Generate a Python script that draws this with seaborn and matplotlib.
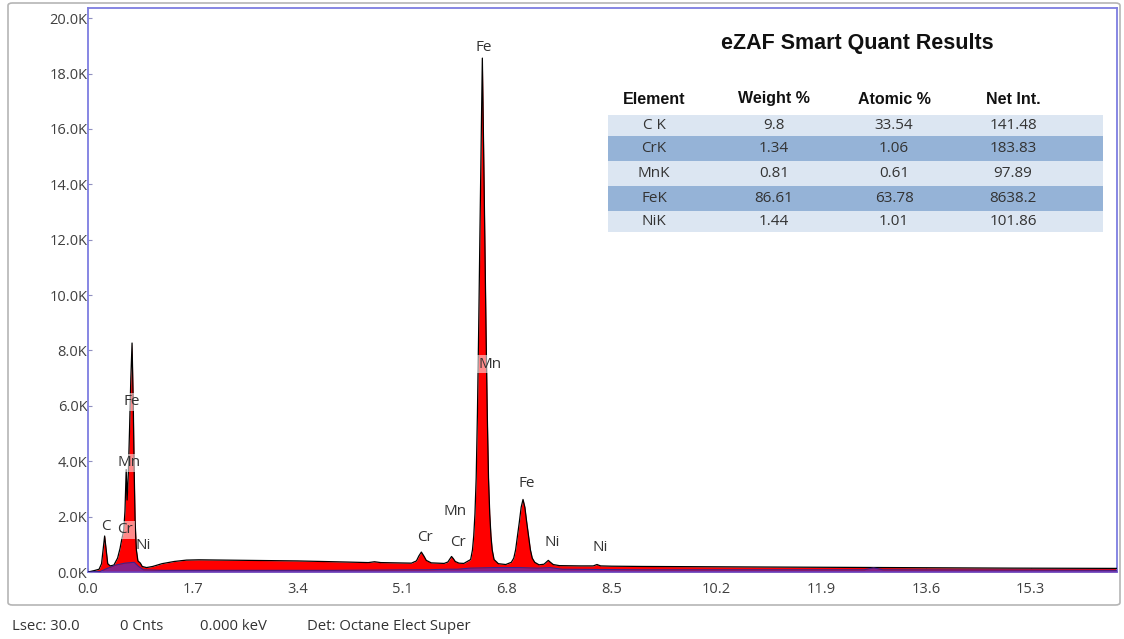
import numpy as np
import pandas as pd
import matplotlib
matplotlib.use("Agg")
import matplotlib.pyplot as plt
import seaborn as sns
from matplotlib.patches import Rectangle, FancyBboxPatch

# ---------------- data ----------------
energy_kev = [0.00, 0.10, 0.18, 0.22, 0.25, 0.27, 0.29, 0.32, 0.36, 0.42, 0.48, 0.52,
              0.55, 0.58, 0.60, 0.62, 0.635, 0.655, 0.675, 0.695, 0.715, 0.735, 0.75,
              0.765, 0.785, 0.81, 0.85, 0.88, 0.95, 1.05, 1.20, 1.40, 1.60, 1.80, 2.20,
              2.60, 3.00, 3.40, 3.80, 4.20, 4.55, 4.65, 4.75, 5.00, 5.25, 5.33, 5.37,
              5.41, 5.45, 5.49, 5.57, 5.78, 5.84, 5.87, 5.90, 5.93, 5.96, 6.02, 6.10,
              6.21, 6.24, 6.26, 6.28, 6.30, 6.32, 6.34, 6.36, 6.38, 6.40, 6.42, 6.44,
              6.46, 6.48, 6.50, 6.52, 6.54, 6.56, 6.59, 6.66, 6.78, 6.87, 6.91, 6.94,
              6.97, 7.00, 7.03, 7.06, 7.09, 7.12, 7.15, 7.18, 7.21, 7.25, 7.32, 7.40,
              7.44, 7.47, 7.50, 7.55, 7.65, 8.00, 8.20, 8.26, 8.32, 8.50, 9.00, 10.0,
              11.0, 12.0, 13.0, 14.0, 15.0, 16.7]
counts_k = [0.00, 0.05, 0.10, 0.30, 0.90, 1.30, 0.90, 0.30, 0.22, 0.25, 0.50, 0.85,
            1.20, 1.50, 2.20, 3.70, 2.60, 3.60, 5.20, 7.00, 8.27, 6.00, 3.60,
            1.80, 0.80, 0.40, 0.32, 0.20, 0.16, 0.20, 0.30, 0.38, 0.43, 0.44, 0.43,
            0.42, 0.41, 0.40, 0.38, 0.36, 0.34, 0.37, 0.34, 0.33, 0.32, 0.40, 0.58,
            0.72, 0.58, 0.42, 0.33, 0.31, 0.36, 0.46, 0.56, 0.48, 0.38, 0.32, 0.31,
            0.45, 0.80, 1.30, 2.10, 3.40, 5.70, 8.70, 12.1, 15.4, 18.56, 15.4, 12.1,
            8.70, 5.70, 3.40, 2.10, 1.30, 0.80, 0.45, 0.30, 0.27, 0.35, 0.50, 0.80,
            1.30, 1.80, 2.34, 2.62, 2.34, 1.80, 1.30, 0.80, 0.50, 0.35, 0.26, 0.28,
            0.36, 0.42, 0.36, 0.27, 0.23, 0.22, 0.22, 0.27, 0.22, 0.21, 0.20, 0.19,
            0.18, 0.17, 0.16, 0.15, 0.14, 0.13]

bg_energy_kev = [0.00, 0.20, 0.30, 0.45, 0.60, 0.75, 0.82, 0.90, 1.20, 2.00, 4.00, 5.30,
                 5.50, 5.85, 6.00, 6.20, 6.60, 7.00, 7.30, 7.50, 7.70, 9.00, 12.60,
                 12.75, 12.90, 16.70]
bg_counts_k = [0.00, 0.02, 0.12, 0.25, 0.32, 0.35, 0.20, 0.08, 0.06, 0.06, 0.06, 0.08,
               0.08, 0.10, 0.10, 0.14, 0.16, 0.16, 0.14, 0.16, 0.10, 0.08, 0.08,
               0.15, 0.08, 0.06]

peak_labels = ["Fe", "Mn", "Fe", "Mn", "Cr", "Cr", "Ni", "Ni", "Fe", "Mn", "C", "Cr", "Ni"]
label_kev = [6.43, 6.52, 7.12, 5.95, 5.47, 6.00, 7.53, 8.32, 0.71, 0.66, 0.29, 0.60, 0.89]
label_k = [18.96, 7.51, 3.21, 2.17, 1.26, 1.05, 1.05, 0.87, 6.14, 3.94, 1.63, 1.52, 0.94]
label_boxed = [False, True, False, False, False, False, False, False, True, True, False, True, False]

x_ticks = [0.0, 1.7, 3.4, 5.1, 6.8, 8.5, 10.2, 11.9, 13.6, 15.3]
y_ticks = [0, 2, 4, 6, 8, 10, 12, 14, 16, 18, 20]

table_title = "eZAF Smart Quant Results"
table_columns = ["Element", "Weight %", "Atomic %", "Net Int."]
table_elements = ["C K", "CrK", "MnK", "FeK", "NiK"]
table_weight = ["9.8", "1.34", "0.81", "86.61", "1.44"]
table_atomic = ["33.54", "1.06", "0.61", "63.78", "1.01"]
table_netint = ["141.48", "183.83", "97.89", "8638.2", "101.86"]

footer_items = ["Lsec: 30.0", "0 Cnts", "0.000 keV", "Det: Octane Elect Super"]

# ---------------- figure ----------------
sns.set_theme(style="white")
plt.rcParams["font.family"] = ["Open Sans", "DejaVu Sans"]

W, H = 1124, 639
fig = plt.figure(figsize=(W / 100, H / 100), dpi=100)
fig.patch.set_facecolor("white")


def fx(px):
    return px / W


def fy(py):
    return 1 - py / H


ax = fig.add_axes([fx(88), fy(572), fx(1117) - fx(88), fy(8) - fy(572)])

spec = pd.DataFrame({"Energy": energy_kev, "Counts": counts_k})
bg = pd.DataFrame({"Energy": bg_energy_kev, "Counts": bg_counts_k})

ax.fill_between(spec["Energy"], 0, spec["Counts"], color="#ff0000", lw=0, zorder=2)
sns.lineplot(data=spec, x="Energy", y="Counts", ax=ax, color="black", lw=0.9,
             estimator=None, sort=False, zorder=3)
ax.fill_between(bg["Energy"], 0, bg["Counts"], color="#6a2aa8", alpha=0.8, lw=0, zorder=4)
sns.lineplot(data=bg, x="Energy", y="Counts", ax=ax, color="#3a2290", lw=0.8,
             estimator=None, sort=False, zorder=4)

for lab, xe, yk, boxed in zip(peak_labels, label_kev, label_k, label_boxed):
    kw = {}
    if boxed:
        kw["bbox"] = dict(boxstyle="square,pad=0.12", fc="white", ec="none", alpha=0.55)
    ax.text(xe, yk, lab, ha="center", va="center", fontsize=11, color="#333333",
            zorder=6, **kw)

ax.set_xlim(0, 16.7)
ax.set_ylim(0, 20.37)
ax.set_xticks(x_ticks)
ax.set_xticklabels([f"{v:.1f}" for v in x_ticks])
ax.set_yticks(y_ticks)
ax.set_yticklabels([f"{v:.1f}K" for v in y_ticks])
ax.set_xlabel("")
ax.set_ylabel("")
ax.tick_params(axis="y", direction="in", length=3, width=0.8, color="#9090c0",
               pad=0.5, labelsize=10.5, labelcolor="#404040", left=True)
ax.tick_params(axis="x", direction="in", length=3, width=0.8, color="#9090c0",
               pad=7, labelsize=10.5, labelcolor="#404040", bottom=True)
for s in ax.spines.values():
    s.set_color("#7d7de0")
    s.set_linewidth(1.3)
    s.set_visible(True)
ax.set_facecolor("white")

# outer rounded frame
frame = FancyBboxPatch((fx(8), fy(605)), fx(1120) - fx(8), fy(3) - fy(605),
                       boxstyle="round,pad=0,rounding_size=0.004",
                       transform=fig.transFigure, fill=False, ec="#b5b5b5", lw=1.2,
                       zorder=0)
fig.add_artist(frame)

# ---------------- result table ----------------
fig.text(fx(857), fy(44), table_title, ha="center", va="center", fontsize=15.5,
         fontweight="bold", family="Liberation Sans", color="#111111")

col_x = [654, 774, 894, 1013]
for cx, name in zip(col_x, table_columns):
    fig.text(fx(cx), fy(99), name, ha="center", va="center", fontsize=11.5,
             fontweight="bold", family="Liberation Sans", color="#111111")

row_edges = [115, 136, 161, 186, 211, 232]
row_colors = ["#dce6f2", "#95b3d7", "#dce6f2", "#95b3d7", "#dce6f2"]
for i, c in enumerate(row_colors):
    top, bot = row_edges[i], row_edges[i + 1]
    fig.add_artist(Rectangle((fx(608), fy(bot)), fx(1103) - fx(608), fy(top) - fy(bot),
                             transform=fig.transFigure, fc=c, ec="none", zorder=1))

for i in range(len(table_elements)):
    cy = (row_edges[i] + row_edges[i + 1]) / 2
    for cx, val in zip(col_x, [table_elements[i], table_weight[i], table_atomic[i], table_netint[i]]):
        fig.text(fx(cx), fy(cy), val, ha="center", va="center", fontsize=11,
                 color="#333333", zorder=2)

# ---------------- footer ----------------
footer_x = [12, 120, 200, 307]
for x0, t in zip(footer_x, footer_items):
    fig.text(fx(x0), fy(627), t, ha="left", va="center", fontsize=10.7, color="#333333")

fig.savefig("out.png", dpi=100, facecolor="white")
